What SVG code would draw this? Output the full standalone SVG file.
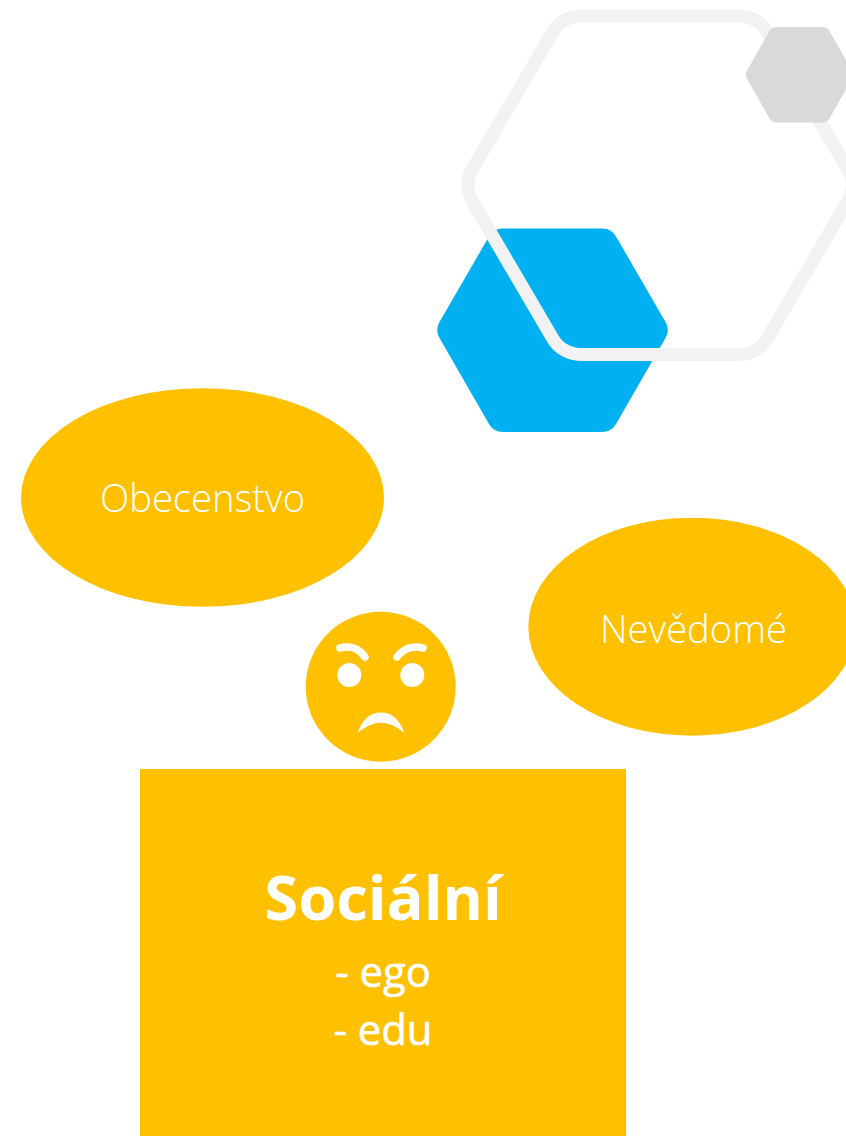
<svg xmlns="http://www.w3.org/2000/svg" width="846" height="1136" viewBox="0 0 846 1136">
<style>
.y{fill:#ffc000}
.l{font-family:"Open Sans","Noto Sans","Liberation Sans",sans-serif;font-weight:300;font-size:38.200px;fill:#fff;text-anchor:middle}
.b{font-family:"Open Sans","Noto Sans","Liberation Sans",sans-serif;fill:#fff;text-anchor:middle}
.m{font-size:41.800px;font-weight:400;stroke:#fff;stroke-width:0.600px}
</style>
<rect width="846" height="1136" fill="#fff"/>
<g id="hex-blue"><path fill="#00b0f0" d="M503 228.500H602A16 16 0 0 1 616 236.500L665.500 322A16 16 0 0 1 665.500 338L616 424A16 16 0 0 1 602 432H503A16 16 0 0 1 489 424L439.500 338A16 16 0 0 1 439.500 322L489 236.500A16 16 0 0 1 503 228.500Z"/></g>
<g id="hex-outline"><path fill="none" stroke="#f2f2f2" stroke-width="13" d="M580.500 16H739.500A32 32 0 0 1 767.250 32L847.750 169.250A32 32 0 0 1 847.750 201.250L767.250 338.500A32 32 0 0 1 739.500 354.500H580.500A32 32 0 0 1 552.750 338.500L472.250 201.250A32 32 0 0 1 472.250 169.250L552.750 32A32 32 0 0 1 580.500 16Z"/></g>
<g id="hex-gray"><path fill="#d9d9d9" d="M777 27H822A8 8 0 0 1 829.500 31L852 70.700A8 8 0 0 1 852 78.700L829.500 118.500A8 8 0 0 1 822 122.500H777A8 8 0 0 1 769.500 118.500L747 78.700A8 8 0 0 1 747 70.700L769.500 31A8 8 0 0 1 777 27Z"/></g>
<g id="obecenstvo"><ellipse class="y" cx="202.500" cy="497.500" rx="181.500" ry="109.300"/><text class="l" x="202.500" y="512">Obecenstvo</text></g>
<g id="nevedome"><ellipse class="y" cx="692" cy="626.700" rx="163.700" ry="109"/><text class="l" x="693.500" y="643">Nevědomé</text></g>
<g id="face">
<circle class="y" cx="380.700" cy="686.700" r="75"/>
<circle cx="349.300" cy="675" r="12" fill="#fff"/><circle cx="412.300" cy="675" r="12" fill="#fff"/>
<path d="M340 648Q356 644 365 657M423 648Q407 644 397 657" fill="none" stroke="#fff" stroke-width="7.500" stroke-linecap="round"/>
<path fill="#fff" d="M357.700 732.700C362 720 370 712.500 381 712.500C392 712.500 400 720 404.300 732.700C396 726 388 722.700 381 722.700C374 722.700 366 726 357.700 732.700Z"/>
</g>
<g id="socialni"><rect class="y" x="140" y="769" width="486" height="367"/>
<text class="b" x="383" y="920" font-size="61.500" font-weight="700">Sociální</text>
<text class="b m" x="383" y="987">- ego</text>
<text class="b m" x="383" y="1045">- edu</text></g>
</svg>
